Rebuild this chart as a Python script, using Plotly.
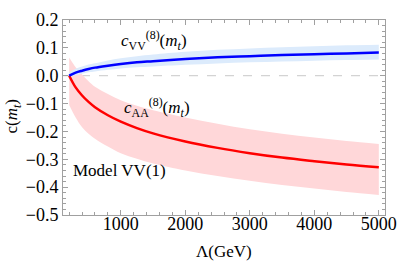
import plotly.graph_objects as go

# Lambda grid (GeV) and values
lam = [200, 300, 400, 500, 600, 800, 1000, 1250, 1500, 2000, 2500, 3000, 3500, 4000, 4500, 5000]

c_vv = [0.0, 0.011, 0.018, 0.024, 0.029, 0.036, 0.042, 0.048, 0.052, 0.060, 0.066, 0.070, 0.074, 0.077, 0.080, 0.083]
c_vv_hi = [0.012, 0.025, 0.033, 0.040, 0.045, 0.055, 0.063, 0.070, 0.076, 0.086, 0.093, 0.098, 0.102, 0.106, 0.109, 0.111]
c_vv_lo = [-0.005, 0.002, 0.007, 0.012, 0.015, 0.021, 0.026, 0.030, 0.033, 0.039, 0.044, 0.048, 0.051, 0.054, 0.056, 0.058]

c_aa = [0.0, -0.042, -0.071, -0.094, -0.113, -0.142, -0.165, -0.188, -0.207, -0.236, -0.259, -0.278, -0.294, -0.307, -0.319, -0.329]
c_aa_hi = [0.065, 0.030, 0.004, -0.020, -0.040, -0.066, -0.088, -0.108, -0.124, -0.150, -0.172, -0.192, -0.208, -0.222, -0.234, -0.245]
c_aa_lo = [-0.105, -0.150, -0.185, -0.208, -0.226, -0.254, -0.278, -0.298, -0.315, -0.340, -0.360, -0.377, -0.392, -0.405, -0.417, -0.428]

FONT = "Liberation Serif, Times New Roman, serif"
GRAY = "#a0a0a0"

fig = go.Figure()

# red band
fig.add_trace(go.Scatter(x=lam, y=c_aa_lo, mode="lines", line=dict(width=0, shape="spline"),
                         showlegend=False, hoverinfo="skip"))
fig.add_trace(go.Scatter(x=lam, y=c_aa_hi, mode="lines", line=dict(width=0, shape="spline"),
                         fill="tonexty", fillcolor="#ffd7d9", showlegend=False, hoverinfo="skip"))
# blue band
fig.add_trace(go.Scatter(x=lam, y=c_vv_lo, mode="lines", line=dict(width=0, shape="spline"),
                         showlegend=False, hoverinfo="skip"))
fig.add_trace(go.Scatter(x=lam, y=c_vv_hi, mode="lines", line=dict(width=0, shape="spline"),
                         fill="tonexty", fillcolor="#dcebfc", showlegend=False, hoverinfo="skip"))

# central curves
fig.add_trace(go.Scatter(x=lam, y=c_aa, mode="lines", line=dict(color="#ff0000", width=2.5, shape="spline"),
                         showlegend=False))
fig.add_trace(go.Scatter(x=lam, y=c_vv, mode="lines", line=dict(color="#0000ff", width=2.5, shape="spline"),
                         showlegend=False))

# dashed zero line
fig.add_shape(type="line", xref="x domain", yref="y", x0=0, x1=1, y0=0, y1=0,
              line=dict(color="#c8c8c8", width=1, dash="dash"), layer="below")

axis_common = dict(
    showline=True, linecolor=GRAY, linewidth=1, mirror="allticks",
    ticks="inside", ticklen=5, tickcolor=GRAY, tickwidth=1,
    showgrid=False, zeroline=False,
    tickfont=dict(family=FONT, size=18, color="black"),
)

fig.update_xaxes(range=[104, 5096], tickvals=[1000, 2000, 3000, 4000, 5000], tickformat="d",
                 ticklabelstandoff=-8,
                 minor=dict(dtick=200, ticks="inside", ticklen=3, tickcolor=GRAY, showgrid=False),
                 **axis_common)
fig.update_yaxes(range=[-0.5, 0.2], dtick=0.1, tick0=0, tickformat=".1f",
                 minor=dict(dtick=0.02, ticks="inside", ticklen=3, tickcolor=GRAY, showgrid=False),
                 **axis_common)

ann_font = dict(family=FONT, size=17, color="black")
ann = dict(showarrow=False, font=ann_font, xanchor="center", yanchor="middle")
fig.add_annotation(x=1517, y=0.128, xref="x", yref="y",
                   text="<i>c</i><sub>VV</sub><sup>(8)</sup>(<i>m<sub>t</sub></i>)", **ann)
fig.add_annotation(x=1560, y=-0.115, xref="x", yref="y",
                   text="<i>c</i><sub>AA</sub><sup>(8)</sup>(<i>m<sub>t</sub></i>)", **ann)
fig.add_annotation(x=983, y=-0.340, xref="x", yref="y", text="Model VV(1)", **ann)

# axis titles
fig.add_annotation(x=-0.154, y=0.507, xref="paper", yref="paper", textangle=-90,
                   text="c(<i>m<sub>t</sub></i>)", **ann)
fig.add_annotation(x=0.5, y=-0.185, xref="paper", yref="paper", text="Λ(GeV)", **ann)

fig.update_layout(
    width=407, height=263,
    margin=dict(l=63, r=12, t=10, b=48),
    plot_bgcolor="white", paper_bgcolor="white",
    showlegend=False,
)

fig.write_html("out.html", config={"displayModeBar": False},
               post_script="document.body.style.margin='0';")
